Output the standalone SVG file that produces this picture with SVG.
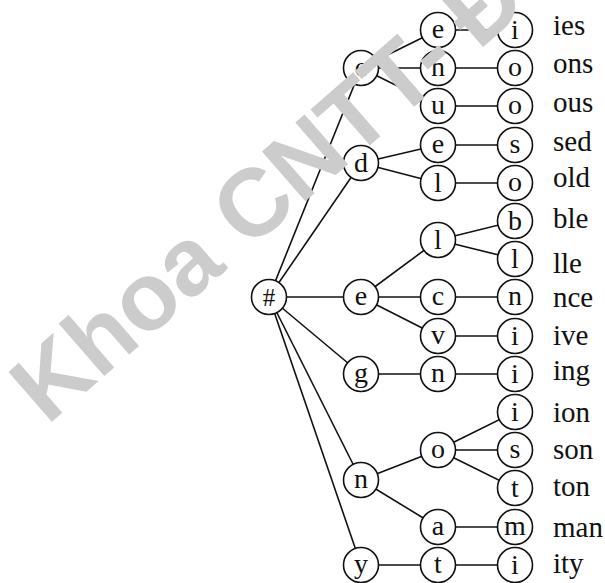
<svg xmlns="http://www.w3.org/2000/svg" width="605" height="583" viewBox="0 0 605 583">
  <style>
    .edge { stroke: #111; stroke-width: 1.6; fill: none; }
    .node circle { fill: #fff; stroke: #111; stroke-width: 1.6; }
    .node text { font-family: "Liberation Serif", "Times New Roman", serif; font-size: 28px; fill: #111; text-anchor: middle; }
    .suffix { font-family: "Liberation Serif", "Times New Roman", serif; font-size: 29px; fill: #111; }
    .mark { font-family: "Liberation Sans", Arial, sans-serif; font-weight: bold; font-size: 96px; fill: #cccccc; }
  </style>
  <rect width="605" height="583" fill="#fff"/>

  <!-- connectors (drawn center to center, circles cover the ends) -->
  <g id="connectors" class="edge">
    <line x1="269" y1="297" x2="361" y2="68"/>
    <line x1="269" y1="297" x2="361" y2="163"/>
    <line x1="269" y1="297" x2="361" y2="297"/>
    <line x1="269" y1="297" x2="361" y2="374"/>
    <line x1="269" y1="297" x2="361" y2="480"/>
    <line x1="269" y1="297" x2="361" y2="565"/>

    <line x1="361" y1="68" x2="438" y2="30"/>
    <line x1="361" y1="68" x2="438" y2="68"/>
    <line x1="361" y1="68" x2="438" y2="106"/>
    <line x1="361" y1="163" x2="438" y2="145"/>
    <line x1="361" y1="163" x2="438" y2="183"/>
    <line x1="361" y1="297" x2="438" y2="240"/>
    <line x1="361" y1="297" x2="438" y2="297"/>
    <line x1="361" y1="297" x2="438" y2="336"/>
    <line x1="361" y1="374" x2="438" y2="374"/>
    <line x1="361" y1="480" x2="438" y2="450"/>
    <line x1="361" y1="480" x2="438" y2="527"/>
    <line x1="361" y1="565" x2="438" y2="565"/>

    <line x1="438" y1="30" x2="515" y2="30"/>
    <line x1="438" y1="68" x2="515" y2="68"/>
    <line x1="438" y1="106" x2="515" y2="106"/>
    <line x1="438" y1="145" x2="515" y2="145"/>
    <line x1="438" y1="183" x2="515" y2="183"/>
    <line x1="438" y1="240" x2="515" y2="221"/>
    <line x1="438" y1="240" x2="515" y2="259"/>
    <line x1="438" y1="297" x2="515" y2="297"/>
    <line x1="438" y1="336" x2="515" y2="336"/>
    <line x1="438" y1="374" x2="515" y2="374"/>
    <line x1="438" y1="450" x2="515" y2="412"/>
    <line x1="438" y1="450" x2="515" y2="450"/>
    <line x1="438" y1="450" x2="515" y2="488"/>
    <line x1="438" y1="527" x2="515" y2="527"/>
    <line x1="438" y1="565" x2="515" y2="565"/>
  </g>

  <!-- root -->
  <g id="root" class="node"><circle cx="269" cy="297" r="17.5"/><text x="269" y="306" style="font-size:25px">#</text></g>

  <!-- level 1 -->
  <g id="n-c" class="node"><circle cx="361" cy="68" r="17.5"/><text x="361" y="76">c</text></g>
  <g id="n-d" class="node"><circle cx="361" cy="163" r="17.5"/><text x="361" y="172">d</text></g>
  <g id="n-e" class="node"><circle cx="361" cy="297" r="17.5"/><text x="361" y="305">e</text></g>
  <g id="n-g" class="node"><circle cx="361" cy="374" r="17.5"/><text x="361" y="382">g</text></g>
  <g id="n-n" class="node"><circle cx="361" cy="480" r="17.5"/><text x="361" y="488">n</text></g>
  <g id="n-y" class="node"><circle cx="361" cy="565" r="17.5"/><text x="361" y="573">y</text></g>

  <!-- level 2 -->
  <g id="n-ce" class="node"><circle cx="438" cy="30" r="17.5"/><text x="438" y="38">e</text></g>
  <g id="n-cn" class="node"><circle cx="438" cy="68" r="17.5"/><text x="438" y="76">n</text></g>
  <g id="n-cu" class="node"><circle cx="438" cy="106" r="17.5"/><text x="438" y="114">u</text></g>
  <g id="n-de" class="node"><circle cx="438" cy="145" r="17.5"/><text x="438" y="153">e</text></g>
  <g id="n-dl" class="node"><circle cx="438" cy="183" r="17.5"/><text x="438" y="192">l</text></g>
  <g id="n-el" class="node"><circle cx="438" cy="240" r="17.5"/><text x="438" y="249">l</text></g>
  <g id="n-ec" class="node"><circle cx="438" cy="297" r="17.5"/><text x="438" y="305">c</text></g>
  <g id="n-ev" class="node"><circle cx="438" cy="336" r="17.5"/><text x="438" y="344">v</text></g>
  <g id="n-gn" class="node"><circle cx="438" cy="374" r="17.5"/><text x="438" y="382">n</text></g>
  <g id="n-no" class="node"><circle cx="438" cy="450" r="17.5"/><text x="438" y="458">o</text></g>
  <g id="n-na" class="node"><circle cx="438" cy="527" r="17.5"/><text x="438" y="535">a</text></g>
  <g id="n-yt" class="node"><circle cx="438" cy="565" r="17.5"/><text x="438" y="573">t</text></g>

  <!-- level 3 -->
  <g id="n-cei" class="node"><circle cx="515" cy="30" r="17.5"/><text x="515" y="39">i</text></g>
  <g id="n-cno" class="node"><circle cx="515" cy="68" r="17.5"/><text x="515" y="76">o</text></g>
  <g id="n-cuo" class="node"><circle cx="515" cy="106" r="17.5"/><text x="515" y="114">o</text></g>
  <g id="n-des" class="node"><circle cx="515" cy="145" r="17.5"/><text x="515" y="153">s</text></g>
  <g id="n-dlo" class="node"><circle cx="515" cy="183" r="17.5"/><text x="515" y="191">o</text></g>
  <g id="n-elb" class="node"><circle cx="515" cy="221" r="17.5"/><text x="515" y="230">b</text></g>
  <g id="n-ell" class="node"><circle cx="515" cy="259" r="17.5"/><text x="515" y="268">l</text></g>
  <g id="n-ecn" class="node"><circle cx="515" cy="297" r="17.5"/><text x="515" y="305">n</text></g>
  <g id="n-evi" class="node"><circle cx="515" cy="336" r="17.5"/><text x="515" y="345">i</text></g>
  <g id="n-gni" class="node"><circle cx="515" cy="374" r="17.5"/><text x="515" y="383">i</text></g>
  <g id="n-noi" class="node"><circle cx="515" cy="412" r="17.5"/><text x="515" y="421">i</text></g>
  <g id="n-nos" class="node"><circle cx="515" cy="450" r="17.5"/><text x="515" y="458">s</text></g>
  <g id="n-not" class="node"><circle cx="515" cy="488" r="17.5"/><text x="515" y="497">t</text></g>
  <g id="n-nam" class="node"><circle cx="515" cy="527" r="17.5"/><text x="515" y="535">m</text></g>
  <g id="n-yti" class="node"><circle cx="515" cy="565" r="17.5"/><text x="515" y="574">i</text></g>

  <!-- suffix labels -->
  <g id="suffixes" class="suffix">
    <text x="553" y="35">ies</text>
    <text x="553" y="73">ons</text>
    <text x="553" y="112">ous</text>
    <text x="553" y="151">sed</text>
    <text x="553" y="187">old</text>
    <text x="553" y="228">ble</text>
    <text x="553" y="273">lle</text>
    <text x="553" y="307">nce</text>
    <text x="553" y="345">ive</text>
    <text x="553" y="380">ing</text>
    <text x="553" y="422">ion</text>
    <text x="553" y="459">son</text>
    <text x="553" y="496">ton</text>
    <text x="553" y="537">man</text>
    <text x="553" y="573">ity</text>
  </g>

  <!-- watermark -->
  <text class="mark" transform="translate(47,426) rotate(-41)">Khoa CNTT-<tspan dx="22">Đ</tspan></text>
</svg>
